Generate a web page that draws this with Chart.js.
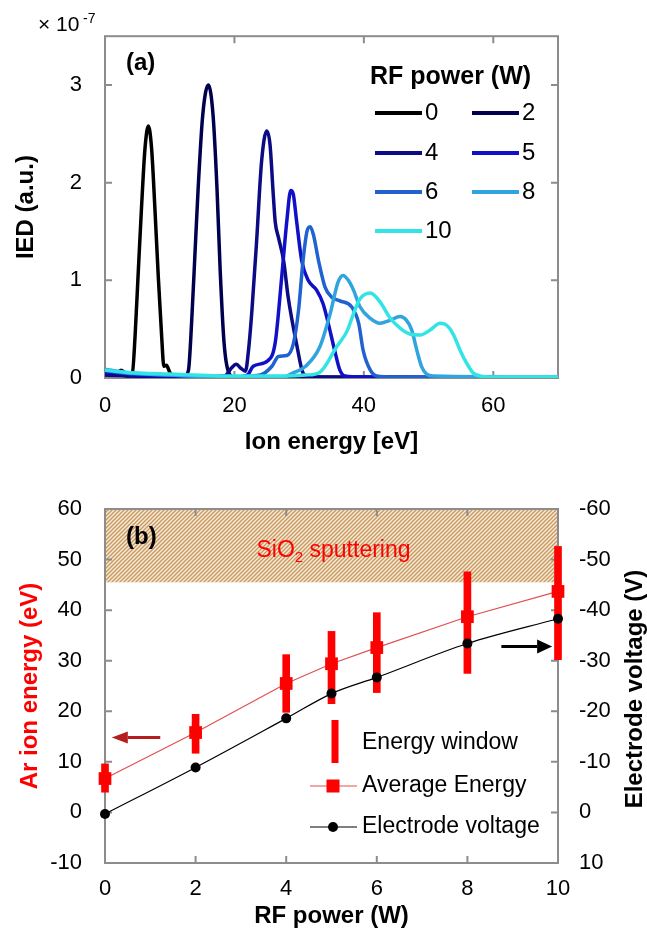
<!DOCTYPE html>
<html>
<head>
<meta charset="utf-8">
<script src="https://cdn.jsdelivr.net/npm/chart.js@4.4.1/dist/chart.umd.min.js"></script>
<style>
  html, body { margin: 0; padding: 0; background: #fff; }
  #wrap { position: relative; width: 647px; height: 933px; }
  canvas { position: absolute; left: 0; }
  #chart-a { top: 0; }
  #chart-b { top: 470px; }
</style>
</head>
<body>
<div id="wrap">
  <canvas id="chart-a" width="647" height="470"></canvas>
  <canvas id="chart-b" width="647" height="463"></canvas>
</div>
<script>
'use strict';

// ── (a) Ion energy distributions, IED in units of 1e-7 ─────────────────────
const POWERS = ['0', '2', '4', '5', '6', '8', '10'];
const COLORS = ['#000000', '#00004f', '#0b0b85', '#1010c8', '#2062d0', '#2fa4de', '#33e4e4'];

const IED_0W = [[0,0.03],[2,0.05],[3.5,0.02],[4.2,0.03],[4.64,0.42],[5.15,1.1],[5.67,1.78],[6.18,2.35],
  [6.7,2.58],[7.2,2.35],[7.73,1.71],[8.24,1.03],[8.76,0.42],[9.1,0.12],[9.5,0.13],[10,0.06],[11,0.01],[70,0]];
const IED_2W = [[0,0.05],[1.5,0.03],[2.5,0.08],[3.5,0.03],[6,0.02],[11,0.01],[12.3,0.02],[12.9,0.08],
  [13.4,0.59],[13.9,1.27],[14.4,1.95],[15.1,2.69],[15.97,3.0],[16.7,2.69],[17.3,1.95],[17.8,1.1],
  [18.4,0.36],[19.1,0.06],[20,0.01],[70,0]];
const IED_4W = [[0,0.03],[10,0.01],[18.5,0.02],[19.5,0.1],[20.3,0.14],[21,0.1],[21.7,0.07],[22.2,0.3],
  [22.7,0.69],[23.4,1.37],[24.2,2.22],[25,2.53],[25.5,2.39],[26,1.88],[26.3,1.6],[26.8,1.44],[27.6,1.2],
  [28.3,0.83],[29.6,0.35],[30.6,0.05],[31.5,0.01],[70,0]];
const IED_5W = [[0,0.06],[2,0.05],[5,0.03],[10,0.02],[20,0.01],[22,0.03],[22.9,0.12],[25.2,0.18],
  [26.3,0.36],[27.3,1.03],[28.1,1.61],[28.7,1.92],[29.1,1.88],[29.6,1.61],[30.4,1.2],[31.4,1.0],
  [32.7,0.9],[33.7,0.76],[34.5,0.56],[35.5,0.28],[36.3,0.08],[37.1,0.02],[40,0.01],[70,0]];
const IED_6W = [[0,0.08],[3,0.05],[10,0.03],[20,0.01],[24,0.03],[25.8,0.12],[26.8,0.22],[28.1,0.23],
  [29.1,0.35],[29.9,0.69],[30.6,1.2],[31.2,1.5],[31.7,1.55],[32.2,1.47],[33,1.2],[34,0.93],[35,0.83],
  [36.3,0.79],[38.1,0.73],[39.2,0.56],[39.9,0.28],[41,0.08],[42,0.02],[45,0.01],[70,0]];
const IED_8W = [[0,0.09],[3,0.06],[10,0.03],[20,0.01],[27.5,0.01],[29,0.05],[31,0.12],[33.2,0.32],
  [34.8,0.66],[36,0.98],[36.8,1.05],[37.6,1.0],[38.4,0.9],[39.4,0.73],[41,0.61],[42.5,0.56],[44,0.59],
  [45.6,0.63],[46.6,0.59],[47.4,0.49],[48.2,0.28],[48.9,0.12],[49.7,0.04],[50.7,0.02],[70,0.01]];
const IED_10W = [[0,0.08],[3,0.06],[10,0.04],[20,0.02],[28,0.02],[31,0.03],[33.2,0.06],[35.8,0.32],
  [37.4,0.48],[38.4,0.66],[39.4,0.81],[41,0.87],[42.5,0.78],[44,0.62],[45.6,0.51],[47.1,0.45],
  [48.7,0.44],[50.2,0.49],[51.8,0.56],[52.8,0.54],[53.8,0.45],[54.9,0.28],[55.9,0.15],[56.9,0.05],
  [58,0.02],[60,0.01],[70,0.01]];
const IED_SERIES = [IED_0W, IED_2W, IED_4W, IED_5W, IED_6W, IED_8W, IED_10W];

const X_TICKS_A = [0, 20, 40, 60];
const Y_TICKS_A = [0, 1, 2, 3];

// ── (b) Ion energy and electrode voltage vs RF power ────────────────────────
const RF_POWER    = [0, 2, 4, 5, 6, 8, 10];
const AVG_ENERGY  = [6.7, 15.8, 25.5, 29.4, 32.6, 38.7, 43.7];
const WIN_LO      = [4.0, 11.7, 19.8, 21.5, 23.7, 27.5, 30.2];
const WIN_HI      = [9.6, 19.4, 31.2, 35.8, 39.5, 47.6, 52.6];
const ELECTRODE_V = [0.3, -8.9, -18.6, -23.5, -26.7, -33.4, -38.3];
const SPUTTER_BAND = [45.5, 60];

const X_TICKS_B  = [0, 2, 4, 6, 8, 10];
const Y_TICKS_B  = [-10, 0, 10, 20, 30, 40, 50, 60];
const Y2_TICKS_B = [-60, -50, -40, -30, -20, -10, 0, 10];

const FONT = '"Liberation Sans", Arial, sans-serif';
const AXIS_GREY = '#8c8c8c';
Chart.defaults.font.family = FONT;
Chart.defaults.color = '#000';

function font(size, bold) { return (bold ? 'bold ' : '') + size + 'px ' + FONT; }

// frame with inward tick marks on all four sides
function drawFrame(chart, xTicks, yTicks, yScaleId) {
  const { ctx, chartArea: a } = chart;
  const xs = chart.scales.x, ys = chart.scales[yScaleId];
  ctx.save();
  ctx.strokeStyle = AXIS_GREY;
  ctx.lineWidth = 2;
  ctx.strokeRect(a.left, a.top, a.right - a.left, a.bottom - a.top);
  ctx.beginPath();
  xTicks.forEach(v => {
    const p = xs.getPixelForValue(v);
    if (p <= a.left + 1 || p >= a.right - 1) return;
    ctx.moveTo(p, a.bottom); ctx.lineTo(p, a.bottom - 7);
    ctx.moveTo(p, a.top);    ctx.lineTo(p, a.top + 7);
  });
  yTicks.forEach(v => {
    const p = ys.getPixelForValue(v);
    if (p <= a.top + 1 || p >= a.bottom - 1) return;
    ctx.moveTo(a.left, p);  ctx.lineTo(a.left + 7, p);
    ctx.moveTo(a.right, p); ctx.lineTo(a.right - 7, p);
  });
  ctx.stroke();
  ctx.restore();
}

function fixedTicks(list) {
  return s => { s.ticks = list.map(v => ({ value: v })); };
}

// ── Chart (a) ───────────────────────────────────────────────────────────────

const plotA = {
  id: 'plotA',
  beforeDatasetsDraw(chart) { drawFrame(chart, X_TICKS_A, Y_TICKS_A, 'y'); },
  afterDraw(chart) {
    const ctx = chart.ctx;
    ctx.save();
    ctx.fillStyle = '#000';
    ctx.textBaseline = 'alphabetic';
    ctx.font = font(21);
    ctx.fillText('\u00d7 10', 38, 31);
    ctx.font = font(14);
    ctx.fillText('-7', 83, 23);

    ctx.textBaseline = 'middle';
    ctx.font = font(24, true);
    ctx.fillText('(a)', 126, 63);

    // legend
    ctx.font = font(25, true);
    ctx.fillText('RF power (W)', 370, 77);
    const colX = [375, 472], rowY = [113, 153, 192, 231];
    ctx.font = font(24);
    POWERS.forEach((p, i) => {
      const x = colX[i % 2], y = rowY[Math.floor(i / 2)];
      ctx.strokeStyle = COLORS[i];
      ctx.lineWidth = 4;
      ctx.beginPath(); ctx.moveTo(x, y); ctx.lineTo(x + 47, y); ctx.stroke();
      ctx.fillStyle = '#000';
      ctx.fillText(p, x + 50, y);
    });
    ctx.restore();
  },
};

new Chart(document.getElementById('chart-a'), {
  type: 'line',
  data: {
    datasets: IED_SERIES.map((d, i) => ({
      label: POWERS[i] + ' W',
      data: d,
      borderColor: COLORS[i],
      borderWidth: 3.5,
      pointRadius: 0,
      cubicInterpolationMode: 'monotone',
      order: IED_SERIES.length - i,
    })),
  },
  options: {
    responsive: false,
    animation: false,
    devicePixelRatio: 1,
    events: [],
    layout: { padding: { top: 34, right: 89, left: 0, bottom: 0 } },
    plugins: { legend: { display: false }, tooltip: { enabled: false } },
    scales: {
      x: {
        type: 'linear', min: 0, max: 70,
        afterBuildTicks: fixedTicks(X_TICKS_A),
        afterFit: s => { s.height = 92; },
        grid: { display: false, drawTicks: false },
        border: { display: false },
        ticks: { font: { size: 22 }, padding: 15, maxRotation: 0 },
        title: { display: true, text: 'Ion energy [eV]', font: { size: 24, weight: 'bold' },
                 padding: { top: 0, bottom: 13 } },
      },
      y: {
        type: 'linear', min: 0, max: 3.5,
        afterBuildTicks: fixedTicks(Y_TICKS_A),
        afterFit: s => { s.width = 105; },
        grid: { display: false, drawTicks: false },
        border: { display: false },
        ticks: { font: { size: 22 }, padding: 23 },
        title: { display: true, text: 'IED (a.u.)', font: { size: 24, weight: 'bold' },
                 padding: { top: 12, bottom: 0 } },
      },
    },
  },
  plugins: [plotA],
});

// ── Chart (b) ───────────────────────────────────────────────────────────────

function hatchPattern(ctx) {
  const c = document.createElement('canvas');
  c.width = c.height = 4;
  const g = c.getContext('2d');
  g.fillStyle = '#f6ead6';
  g.fillRect(0, 0, 4, 4);
  g.strokeStyle = '#c8975f';
  g.lineWidth = 1.3;
  g.beginPath();
  g.moveTo(0, 4); g.lineTo(4, 0);
  g.moveTo(-1, 1); g.lineTo(1, -1);
  g.moveTo(3, 5); g.lineTo(5, 3);
  g.stroke();
  return ctx.createPattern(c, 'repeat');
}

function arrow(ctx, x1, x2, y, color, head, half) {
  const dir = Math.sign(x2 - x1);
  ctx.strokeStyle = color;
  ctx.fillStyle = color;
  ctx.lineWidth = 3;
  ctx.beginPath(); ctx.moveTo(x1, y); ctx.lineTo(x2 - dir * head, y); ctx.stroke();
  ctx.beginPath();
  ctx.moveTo(x2, y);
  ctx.lineTo(x2 - dir * head, y - half);
  ctx.lineTo(x2 - dir * head, y + half);
  ctx.closePath();
  ctx.fill();
}

const plotB = {
  id: 'plotB',
  beforeDatasetsDraw(chart) {
    const { ctx, chartArea: a, scales: { x, y } } = chart;
    ctx.save();
    const yTop = y.getPixelForValue(SPUTTER_BAND[1]);
    const yBot = y.getPixelForValue(SPUTTER_BAND[0]);
    ctx.fillStyle = hatchPattern(ctx);
    ctx.fillRect(a.left, yTop, a.right - a.left, yBot - yTop);

    // SiO2 sputtering label
    ctx.fillStyle = '#ff0000';
    ctx.textBaseline = 'alphabetic';
    const big = font(23), small = font(15);
    ctx.font = big;   const w1 = ctx.measureText('SiO').width;
    ctx.font = small; const w2 = ctx.measureText('2').width;
    ctx.font = big;   const w3 = ctx.measureText(' sputtering').width;
    let tx = (a.left + a.right) / 2 - (w1 + w2 + w3) / 2 + 2;
    const base = 87;
    ctx.fillText('SiO', tx, base);
    ctx.font = small; ctx.fillText('2', tx + w1, base + 5);
    ctx.font = big;   ctx.fillText(' sputtering', tx + w1 + w2, base);
    ctx.restore();

    drawFrame(chart, X_TICKS_B, Y_TICKS_B, 'y');
  },
  afterDraw(chart) {
    const { ctx, chartArea: a, scales: { x, y } } = chart;
    ctx.save();
    ctx.fillStyle = '#000';
    ctx.textBaseline = 'middle';
    ctx.font = font(24, true);
    ctx.fillText('(b)', 126, 67);

    // right axis title, reading upward
    ctx.save();
    ctx.translate(635, (a.top + a.bottom) / 2 + 3);
    ctx.rotate(-Math.PI / 2);
    ctx.textAlign = 'center';
    ctx.fillText('Electrode voltage (V)', 0, 0);
    ctx.restore();

    // arrows pointing to the axis each curve belongs to
    arrow(ctx, x.getPixelForValue(1.22), x.getPixelForValue(0.15), y.getPixelForValue(14.8), '#b41e1e', 16, 6);
    arrow(ctx, x.getPixelForValue(8.75), x.getPixelForValue(9.87), y.getPixelForValue(32.8), '#000000', 15, 7);

    // legend
    ctx.font = font(23);
    ctx.fillStyle = '#ff0000';
    ctx.fillRect(335 - 3.5, 250, 7, 43);
    ctx.fillStyle = '#000';
    ctx.fillText('Energy window', 362, 273);

    ctx.strokeStyle = '#e05050';
    ctx.lineWidth = 1.2;
    ctx.beginPath(); ctx.moveTo(310, 316); ctx.lineTo(357, 316); ctx.stroke();
    ctx.fillStyle = '#ff0000';
    ctx.fillRect(333 - 6.5, 316 - 6.5, 13, 13);
    ctx.fillStyle = '#000';
    ctx.fillText('Average Energy', 362, 316);

    ctx.strokeStyle = '#000';
    ctx.beginPath(); ctx.moveTo(310, 357); ctx.lineTo(357, 357); ctx.stroke();
    ctx.beginPath(); ctx.arc(333, 357, 5, 0, Math.PI * 2); ctx.fill();
    ctx.fillText('Electrode voltage', 362, 357);
    ctx.restore();
  },
};

new Chart(document.getElementById('chart-b'), {
  type: 'line',
  data: {
    datasets: [
      {
        type: 'bar',
        label: 'Energy window',
        data: RF_POWER.map((p, i) => ({ x: p, y: [WIN_LO[i], WIN_HI[i]] })),
        backgroundColor: '#ff0000',
        borderWidth: 0,
        barThickness: 7,
        grouped: false,
        yAxisID: 'y',
        order: 3,
        clip: false,
      },
      {
        label: 'Average Energy',
        data: RF_POWER.map((p, i) => ({ x: p, y: AVG_ENERGY[i] })),
        borderColor: '#e05050',
        borderWidth: 1.2,
        pointStyle: 'rect',
        pointRadius: 9,
        pointBackgroundColor: '#ff0000',
        pointBorderColor: '#ff0000',
        pointBorderWidth: 0,
        yAxisID: 'y',
        order: 2,
        clip: false,
      },
      {
        label: 'Electrode voltage',
        data: RF_POWER.map((p, i) => ({ x: p, y: ELECTRODE_V[i] })),
        borderColor: '#000',
        borderWidth: 1.2,
        pointRadius: 5,
        pointBackgroundColor: '#000',
        pointBorderColor: '#000',
        pointBorderWidth: 0,
        cubicInterpolationMode: 'monotone',
        yAxisID: 'y2',
        order: 1,
        clip: false,
      },
    ],
  },
  options: {
    responsive: false,
    animation: false,
    devicePixelRatio: 1,
    events: [],
    layout: { padding: { top: 39, right: 0, left: 0, bottom: 0 } },
    plugins: { legend: { display: false }, tooltip: { enabled: false } },
    scales: {
      x: {
        type: 'linear', min: 0, max: 10, offset: false,
        afterBuildTicks: fixedTicks(X_TICKS_B),
        afterFit: s => { s.height = 70; },
        grid: { display: false, drawTicks: false },
        border: { display: false },
        ticks: { font: { size: 22 }, padding: 13, maxRotation: 0 },
        title: { display: true, text: 'RF power (W)', font: { size: 24, weight: 'bold' },
                 padding: { top: 0, bottom: 2 } },
      },
      y: {
        type: 'linear', position: 'left', min: -10, max: 60,
        afterBuildTicks: fixedTicks(Y_TICKS_B),
        afterFit: s => { s.width = 105; },
        grid: { display: false, drawTicks: false },
        border: { display: false },
        ticks: { font: { size: 22 }, padding: 23 },
        title: { display: true, text: 'Ar ion energy (eV)', color: '#ff0000',
                 font: { size: 24, weight: 'bold' }, padding: { top: 16, bottom: 0 } },
      },
      y2: {
        type: 'linear', position: 'right', min: -60, max: 10, reverse: true,
        afterBuildTicks: fixedTicks(Y2_TICKS_B),
        afterFit: s => { s.width = 89; },
        grid: { display: false, drawTicks: false },
        border: { display: false },
        ticks: { font: { size: 22 }, padding: 21 },
      },
    },
  },
  plugins: [plotB],
});
</script>
</body>
</html>
